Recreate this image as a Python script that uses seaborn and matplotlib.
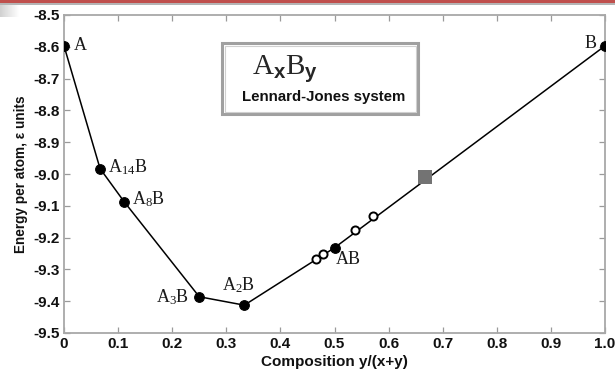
import matplotlib
matplotlib.use("Agg")
import matplotlib.pyplot as plt
from matplotlib.patches import Rectangle
import numpy as np
import seaborn as sns
import pandas as pd

# Convex-hull phases (composition y/(x+y), energy per atom)
hull_names = ["A", "A$_{14}$B", "A$_8$B", "A$_3$B", "A$_2$B", "AB", "B"]
hull_comp = [0.0, 1 / 15, 1 / 9, 0.25, 1 / 3, 0.5, 1.0]
hull_energy = [-8.597, -8.983, -9.087, -9.386, -9.4125, -9.232, -8.597]

# Metastable structures near the hull
meta_comp = [0.4656, 0.478, 0.538, 0.571]
meta_energy = [-9.267, -9.253, -9.177, -9.132]

# AB2 reference structure
sq_comp = [2 / 3]
sq_energy = [-9.008]

x_ticks = [0, 0.1, 0.2, 0.3, 0.4, 0.5, 0.6, 0.7, 0.8, 0.9, 1.0]
x_ticklabels = ["0", "0.1", "0.2", "0.3", "0.4", "0.5", "0.6", "0.7", "0.8", "0.9", "1.0"]
y_ticks = [-9.5, -9.4, -9.3, -9.2, -9.1, -9.0, -8.9, -8.8, -8.7, -8.6, -8.5]

sns.set_theme(style="white")
plt.rcParams["font.family"] = ["Liberation Sans", "DejaVu Sans"]
plt.rcParams["mathtext.fontset"] = "custom"
plt.rcParams["mathtext.rm"] = "Liberation Serif"
plt.rcParams["mathtext.it"] = "Liberation Serif"
plt.rcParams["mathtext.bf"] = "Liberation Sans:bold"

hull = pd.DataFrame({"comp": hull_comp, "energy": hull_energy, "name": hull_names})
meta = pd.DataFrame({"comp": meta_comp, "energy": meta_energy})
sq = pd.DataFrame({"comp": sq_comp, "energy": sq_energy})

fig = plt.figure(figsize=(6.15, 3.72), dpi=100)
ax = fig.add_axes([64 / 615, 1 - 333 / 372, (605 - 64) / 615, (333 - 15) / 372])

sns.lineplot(data=hull, x="comp", y="energy", ax=ax, color="black", lw=1.1,
             marker="o", markersize=7, markeredgecolor="black",
             markerfacecolor="black", sort=False, zorder=3)
sns.scatterplot(data=meta, x="comp", y="energy", ax=ax, s=34, marker="o",
                facecolor="white", edgecolor="black", linewidth=1.4, zorder=4)
sns.scatterplot(data=sq, x="comp", y="energy", ax=ax, s=95, marker="s",
                color="#737373", edgecolor="#737373", linewidth=0, zorder=5)

ax.set_xlim(0, 1.0)
ax.set_ylim(-9.5, -8.5)
ax.set_xticks(x_ticks)
ax.set_xticklabels(x_ticklabels)
ax.set_yticks(y_ticks)
ax.set_yticklabels([f"{v:.1f}" for v in y_ticks])
for lab in ax.get_xticklabels() + ax.get_yticklabels():
    lab.set_fontweight("bold")
    lab.set_fontsize(11)
    lab.set_color("#111111")
ax.tick_params(axis="both", which="both", direction="in", length=4.5, width=0.9,
               color="#9a9a9a", top=True, right=True, bottom=True, left=True)
ax.tick_params(axis="x", pad=3)
ax.tick_params(axis="y", pad=3)
for s in ax.spines.values():
    s.set_color("#a8a8a8")
    s.set_linewidth(1.3)

ax.set_xlabel("Composition y/(x+y)", fontsize=11, fontweight="bold", labelpad=3,
              color="#111111")
ax.set_ylabel("Energy per atom, \u03b5 units", fontsize=9.8, fontweight="bold",
              labelpad=4, color="#111111")

# Phase labels
serif = dict(family="Liberation Serif", fontsize=13, color="#1a1a1a")
offsets = {
    "A": (7, 0, "left", "center"),
    "A$_{14}$B": (6, 1, "left", "center"),
    "A$_8$B": (6, 2, "left", "center"),
    "A$_3$B": (-7, 0, "right", "center"),
    "A$_2$B": (-4, 7, "center", "bottom"),
    "AB": (1, -2, "left", "top"),
    "B": (-6, 2, "right", "center"),
}
for name, cx, ey in zip(hull_names, hull_comp, hull_energy):
    dx, dy, ha, va = offsets[name]
    ax.annotate(name, (cx, ey), xytext=(dx, dy), textcoords="offset points",
                ha=ha, va=va, **serif)

# Title box
bx0, by0 = 222 / 615, 1 - 114 / 372
bw, bh = (418 - 222) / 615, (114 - 43) / 372
fig.patches.append(Rectangle((bx0, by0), bw, bh, transform=fig.transFigure,
                             facecolor="white", edgecolor="#a0a0a0", lw=2.2,
                             zorder=10))
fig.patches.append(Rectangle((bx0 + 2.5 / 615, by0 + 2.5 / 372), bw - 5 / 615,
                             bh - 5 / 372, transform=fig.transFigure,
                             facecolor="none", edgecolor="#d0d0d0", lw=0.8,
                             zorder=10))
fig.text(285 / 615, 1 - 74 / 372, r"$\mathrm{A}_{\mathbf{x}}\mathrm{B}_{\mathbf{y}}$",
         fontsize=21, ha="center", va="baseline", zorder=11)
fig.text(324 / 615, 1 - 97 / 372, "Lennard-Jones system", fontsize=10.8,
         fontweight="bold", ha="center", va="center", zorder=11, color="#111111")

# Header strip and page-corner shade
fig.patches.append(Rectangle((0, 1 - 3 / 372), 1, 3 / 372, transform=fig.transFigure,
                             facecolor="#c0504d", edgecolor="none", zorder=12))
fig.patches.append(Rectangle((0, 1 - 4.5 / 372), 1, 1.5 / 372, transform=fig.transFigure,
                             facecolor="#b5b5b5", edgecolor="none", zorder=12))
shade = np.linspace(0.82, 1.0, 20)[None, :].repeat(12, axis=0)
fig.figimage(shade, xo=0, yo=372 - 17, cmap="gray", vmin=0, vmax=1, zorder=11)

fig.savefig("out.png", dpi=100)
